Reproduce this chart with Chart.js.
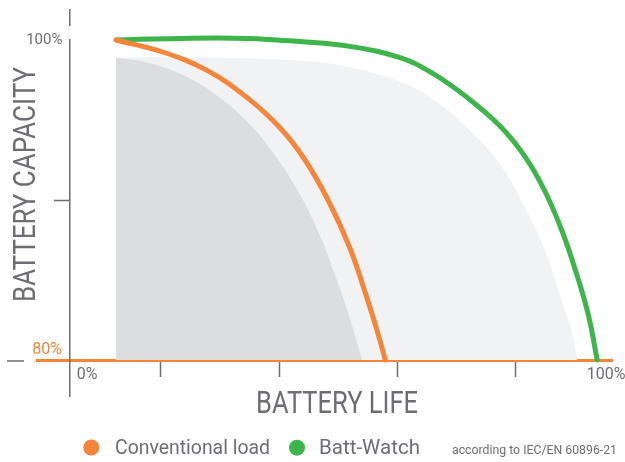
<!DOCTYPE html>
<html>
<head>
<meta charset="utf-8">
<title>Battery capacity vs battery life</title>
<script src="https://cdn.jsdelivr.net/npm/chart.js@4.4.1/dist/chart.umd.min.js"></script>
<style>
    body { margin: 0; background: #ffffff; }
    #wrap { width: 625px; height: 462px; }
</style>
</head>
<body>
<div id="wrap"><canvas id="batteryChart" width="625" height="462"></canvas></div>
<script>
// Data
// x = battery life (%), y = battery capacity (%)
const conventionalX = [12.4, 20.3, 27.8, 34.6, 40.2, 44.4, 48.3, 52.0, 54.7, 56.8, 58.0];
const conventionalY = [100, 99.25, 98.1, 96.4, 94.5, 92.5, 90.0, 87.0, 84.1, 81.6, 80];

const battWatchX = [12.4, 23.2, 34.6, 43.6, 52.0, 60.5, 66.1, 71.9, 77.5, 81.7, 85.1, 88.0, 90.3, 92.4, 93.9];
const battWatchY = [100, 100.1, 100.1, 99.9, 99.6, 98.9, 97.9, 96.4, 94.6, 92.7, 90.5, 88.0, 85.5, 82.8, 80];

// grey background bands
const innerBandX = [12.4, 17.6, 23.2, 28.8, 34.6, 39.3, 43.6, 46.9, 49.8, 52.0, 54.1];
const innerBandY = [98.9, 98.6, 97.9, 96.7, 94.9, 92.8, 90.3, 87.8, 85.0, 82.6, 80];

const outerBandX = [12.4, 26.6, 43.6, 52.0, 60.5, 66.1, 71.9, 77.5, 81.7, 85.1, 87.8, 89.7, 90.5];
const outerBandY = [98.9, 98.9, 98.7, 98.3, 97.4, 96.3, 94.5, 92.2, 89.5, 86.8, 83.8, 81.6, 80];

// axes
const lifeTicks = [20, 40, 60, 80];
const lifeLabelValues = [7.5, 95.4];
const lifeLabels = ['0%', '100%'];
const capacityTicks = [80, 90, 100];
const capacityLabels = ['80%', '', '100%'];
const capacityAxisAt = 4.6;
const baseline = 80;

const seriesNames = ['Conventional load', 'Batt-Watch'];
const axisTitleX = 'BATTERY LIFE';
const axisTitleY = 'BATTERY CAPACITY';
const footNote = 'according to IEC/EN 60896-21';

const ORANGE = '#f5853a';
const GREEN = '#3db54a';
const GREY_TEXT = '#6d6e71';
const FONT = 'Roboto, "Liberation Sans", sans-serif';

function toPoints(xs, ys) {
    return xs.map((x, i) => ({ x: x, y: ys[i] }));
}

// draw text squeezed/stretched to a given width (the original uses a condensed face)
function fittedText(ctx, text, x, y, width, size, align, rotate) {
    ctx.save();
    ctx.font = size + 'px ' + FONT;
    const w = ctx.measureText(text).width;
    ctx.translate(x, y);
    if (rotate) ctx.rotate(-Math.PI / 2);
    ctx.scale(width / w, 1);
    ctx.textAlign = align;
    ctx.textBaseline = 'alphabetic';
    ctx.fillText(text, 0, 0);
    ctx.restore();
}

const decorations = {
    id: 'decorations',
    afterDraw(chart) {
        const ctx = chart.ctx;
        const yScale = chart.scales.y;
        const y80 = yScale.getPixelForValue(baseline);
        const y100 = yScale.getPixelForValue(100);
        const axisX = chart.scales.x.getPixelForValue(capacityAxisAt);

        ctx.save();
        // small break in the capacity axis just above 100%
        ctx.fillStyle = '#ffffff';
        ctx.fillRect(axisX - 2, y100 - 14, 4, 13);

        // loose dash at the 80% level
        ctx.strokeStyle = GREY_TEXT;
        ctx.lineWidth = 1.5;
        ctx.beginPath();
        ctx.moveTo(7, y80 + 1);
        ctx.lineTo(24, y80 + 1);
        ctx.stroke();

        // axis titles
        ctx.fillStyle = GREY_TEXT;
        fittedText(ctx, axisTitleX, 337, 413, 162, 31, 'center', false);
        fittedText(ctx, axisTitleY, 35, 184.5, 235, 31, 'center', true);

        // legend
        const dots = [[91.3, 447.5, 115, 155], [297, 447.7, 319, 101]];
        chart.data.datasets.forEach(ds => {
            const idx = seriesNames.indexOf(ds.label);
            if (idx < 0) return;
            const d = dots[idx];
            ctx.fillStyle = ds.borderColor;
            ctx.beginPath();
            ctx.arc(d[0], d[1], 8, 0, Math.PI * 2);
            ctx.fill();
            ctx.fillStyle = GREY_TEXT;
            fittedText(ctx, ds.label, d[2], 454, d[3], 21, 'left', false);
        });
        ctx.fillStyle = GREY_TEXT;
        fittedText(ctx, footNote, 452, 454.3, 165, 12.5, 'left', false);
        ctx.restore();
    }
};

const lineDefaults = {
    tension: 0.4,
    pointRadius: 0
};

const ctx = document.getElementById('batteryChart').getContext('2d');
const batteryChart = new Chart(ctx, {
    type: 'line',
    data: {
        datasets: [
            Object.assign({}, lineDefaults, {
                label: seriesNames[0],
                data: toPoints(conventionalX, conventionalY),
                borderColor: ORANGE,
                borderWidth: 5,
                borderCapStyle: 'round',
                fill: false,
                order: 0
            }),
            Object.assign({}, lineDefaults, {
                label: seriesNames[1],
                data: toPoints(battWatchX, battWatchY),
                borderColor: GREEN,
                borderWidth: 5,
                borderCapStyle: 'round',
                fill: false,
                order: 1
            }),
            Object.assign({}, lineDefaults, {
                label: 'inner band',
                data: toPoints(innerBandX, innerBandY),
                borderWidth: 0,
                backgroundColor: '#dcdddf',
                fill: { value: baseline },
                order: 2
            }),
            Object.assign({}, lineDefaults, {
                label: 'outer band',
                data: toPoints(outerBandX, outerBandY),
                borderWidth: 0,
                backgroundColor: '#f1f2f4',
                fill: { value: baseline },
                order: 3
            })
        ]
    },
    options: {
        responsive: false,
        animation: false,
        events: [],
        layout: { padding: { left: 37, right: 13, top: 10, bottom: 66 } },
        plugins: {
            legend: { display: false },
            tooltip: { enabled: false }
        },
        scales: {
            x: {
                type: 'linear',
                min: -1,
                max: 96.4,
                position: { y: baseline },
                z: 1,
                afterBuildTicks: function(scale) {
                    scale.ticks = lifeTicks.concat(lifeLabelValues)
                        .sort((a, b) => a - b)
                        .map(v => ({ value: v }));
                },
                ticks: {
                    autoSkip: false,
                    maxRotation: 0,
                    padding: -10,
                    color: GREY_TEXT,
                    font: { family: FONT, size: 16 },
                    callback: function(value) {
                        const i = lifeLabelValues.indexOf(value);
                        return i >= 0 ? lifeLabels[i] : '';
                    }
                },
                grid: {
                    drawOnChartArea: false,
                    tickLength: 15,
                    tickWidth: 1.5,
                    tickColor: function(c) {
                        return c.tick && lifeTicks.includes(c.tick.value) ? GREY_TEXT : 'rgba(0,0,0,0)';
                    }
                },
                border: { color: ORANGE, width: 3 }
            },
            y: {
                type: 'linear',
                min: 77.75,
                max: 101.875,
                position: { x: capacityAxisAt },
                afterBuildTicks: function(scale) {
                    scale.ticks = capacityTicks.map(v => ({ value: v }));
                },
                ticks: {
                    autoSkip: false,
                    padding: -8,
                    color: function(c) {
                        return c.tick && c.tick.value === baseline ? ORANGE : GREY_TEXT;
                    },
                    font: function(c) {
                        if (c.tick && c.tick.value === baseline) {
                            return { family: FONT, size: 16, lineHeight: 1.25 };
                        }
                        return { family: FONT, size: 15 };
                    },
                    callback: function(value) {
                        const i = capacityTicks.indexOf(value);
                        // labels on a positioned axis sit flush with it, pad them off the line
                        const text = i >= 0 && capacityLabels[i] ? capacityLabels[i] + '\u2002' : '';
                        // the 80% label sits just above the baseline
                        return value === baseline ? [text, ''] : text;
                    }
                },
                grid: {
                    drawOnChartArea: false,
                    tickLength: 15,
                    tickWidth: 1.5,
                    tickColor: function(c) {
                        return c.tick && c.tick.value === 90 ? GREY_TEXT : 'rgba(0,0,0,0)';
                    }
                },
                border: { color: GREY_TEXT, width: 1.5 }
            }
        }
    },
    plugins: [decorations]
});
</script>
</body>
</html>
